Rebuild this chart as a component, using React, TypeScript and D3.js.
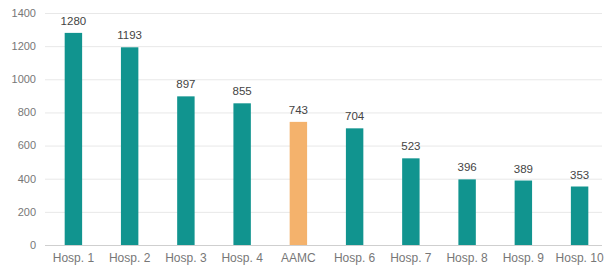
import React, { useEffect, useRef } from 'react';
import * as d3 from 'd3';

const categories = ['Hosp. 1', 'Hosp. 2', 'Hosp. 3', 'Hosp. 4', 'AAMC', 'Hosp. 6', 'Hosp. 7', 'Hosp. 8', 'Hosp. 9', 'Hosp. 10'];
const values = [1280, 1193, 897, 855, 743, 704, 523, 396, 389, 353];
const yTicks = [0, 200, 400, 600, 800, 1000, 1200, 1400];
const highlight = 'AAMC';

const App: React.FC = () => {
  const svgRef = useRef<SVGSVGElement | null>(null);

  useEffect(() => {
    if (!svgRef.current) return;
    const svg = d3.select(svgRef.current);
    svg.selectAll('*').remove();

    const height = 271;
    const margin = { top: 13, right: 0, bottom: 26, left: 45 };
    const font = 'Arial, "Liberation Sans", sans-serif';

    const x = d3.scaleBand<string>()
      .domain(categories)
      .range([margin.left, 608])
      .paddingInner(0.69)
      .paddingOuter(0.35);

    const y = d3.scaleLinear()
      .domain([0, 1400])
      .range([height - margin.bottom, margin.top]);

    // gridlines
    svg.append('g')
      .selectAll('line')
      .data(yTicks)
      .enter().append('line')
      .attr('x1', margin.left)
      .attr('x2', 602)
      .attr('y1', d => y(d) + 0.5)
      .attr('y2', d => y(d) + 0.5)
      .attr('stroke', d => d === 0 ? '#cfcfcf' : '#e8e8e8')
      .attr('stroke-width', 1);

    // y labels
    svg.append('g')
      .selectAll('text')
      .data(yTicks)
      .enter().append('text')
      .attr('x', 36)
      .attr('y', d => y(d))
      .attr('dy', '0.35em')
      .attr('text-anchor', 'end')
      .attr('font-family', font)
      .attr('font-size', 11)
      .attr('fill', '#777')
      .text(d => String(d));

    const data = categories.map((c, i) => ({ category: c, value: values[i] }));

    svg.append('g')
      .selectAll('rect')
      .data(data)
      .enter().append('rect')
      .attr('x', d => x(d.category) || 0)
      .attr('y', d => y(d.value))
      .attr('width', x.bandwidth())
      .attr('height', d => y(0) - y(d.value))
      .attr('fill', d => d.category === highlight ? '#f4b26c' : '#11948f');

    svg.append('g')
      .selectAll('text')
      .data(data)
      .enter().append('text')
      .attr('x', d => (x(d.category) || 0) + x.bandwidth() / 2)
      .attr('y', d => y(d.value) - 8)
      .attr('text-anchor', 'middle')
      .attr('font-family', font)
      .attr('font-size', 11.5)
      .attr('fill', '#444')
      .text(d => String(d.value));

    svg.append('g')
      .selectAll('text')
      .data(categories)
      .enter().append('text')
      .attr('x', d => (x(d) || 0) + x.bandwidth() / 2)
      .attr('y', 262)
      .attr('text-anchor', 'middle')
      .attr('font-family', font)
      .attr('font-size', 12)
      .attr('fill', '#777')
      .text(d => d);
  }, []);

  return (
    <svg ref={svgRef} width={607} height={271}
      style={{ position: 'absolute', left: 0, top: 0, background: '#fff' }} />
  );
};

export default App;
